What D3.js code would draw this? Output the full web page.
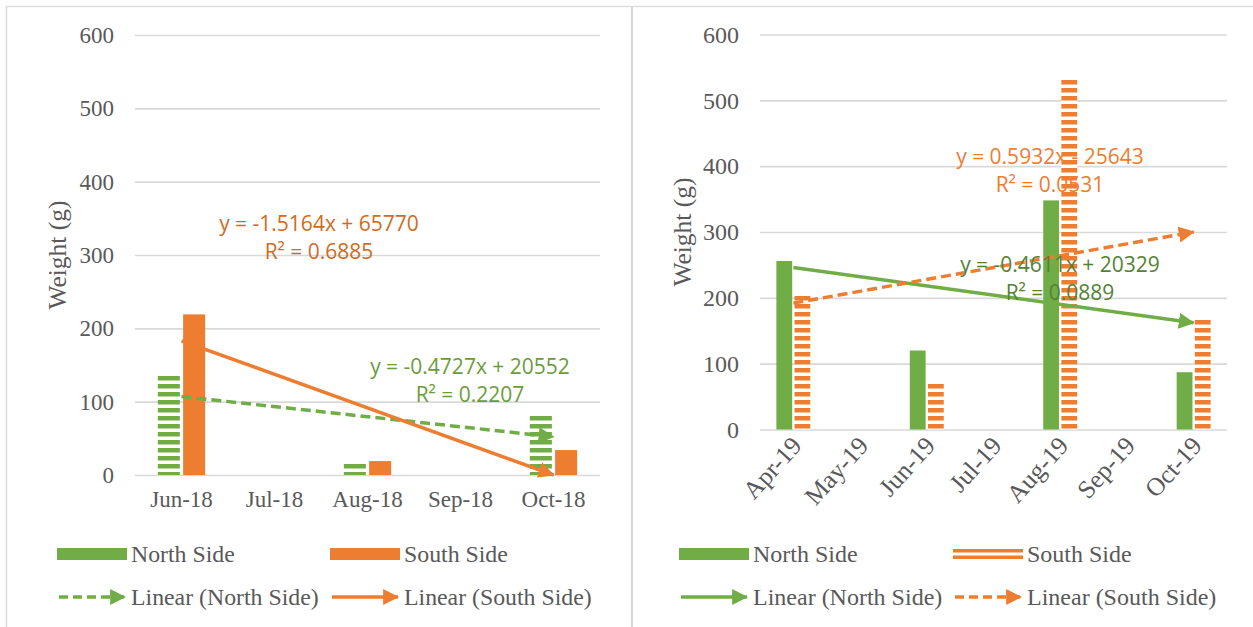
<!DOCTYPE html>
<html>
<head>
<meta charset="utf-8">
<script src="https://cdn.jsdelivr.net/npm/d3@7"></script>
<style>
  html, body { margin: 0; padding: 0; background: #fff; }
  svg { display: block; }
</style>
</head>
<body>
<svg id="chart" width="1253" height="627"></svg>
<script>
// ---------------- DATA ----------------
const yTicks = [0, 100, 200, 300, 400, 500, 600];
const yTitle = "Weight (g)";

// Left chart (2018)
const leftMonths = ["Jun-18", "Jul-18", "Aug-18", "Sep-18", "Oct-18"];
const leftNorth = [138, null, 16, null, 82];
const leftSouth = [219, null, 19, null, 34];
const leftNorthTrend = [107, 52];   // value at first and last month
const leftSouthTrend = [183, 0];
const leftNorthEq = ["y = -0.4727x + 20552", "R² = 0.2207"];
const leftSouthEq = ["y = -1.5164x + 65770", "R² = 0.6885"];

// Right chart (2019)
const rightMonths = ["Apr-19", "May-19", "Jun-19", "Jul-19", "Aug-19", "Sep-19", "Oct-19"];
const rightNorth = [256, null, 120, null, 348, null, 87];
const rightSouth = [205, null, 70, null, 533, null, 169];
const rightNorthTrend = [246, 162];
const rightSouthTrend = [192, 300];
const rightNorthEq = ["y = -0.4611x + 20329", "R² = 0.0889"];
const rightSouthEq = ["y = 0.5932x - 25643", "R² = 0.0531"];

const seriesNames = ["North Side", "South Side", "Linear (North Side)", "Linear (South Side)"];

// ---------------- STYLE ----------------
const GREEN = "#70AD47", ORANGE = "#ED7D31";
const TEXT = "#595959", GRID = "#D9D9D9";
const SERIF = "'Liberation Serif', 'Times New Roman', serif";
const SANS = "'Open Sans', 'Noto Sans', sans-serif";

const svg = d3.select("#chart");
const defs = svg.append("defs");

function stripePattern(id, color) {
  const p = defs.append("pattern").attr("id", id)
    .attr("patternUnits", "userSpaceOnUse").attr("width", 8).attr("height", 8);
  p.append("rect").attr("width", 8).attr("height", 8).attr("fill", "#fff");
  p.append("rect").attr("y", 0).attr("width", 8).attr("height", 4.5).attr("fill", color);
}
stripePattern("stripeGreen", GREEN);
stripePattern("stripeOrange", ORANGE);

function arrowMarker(id, color) {
  defs.append("marker").attr("id", id)
    .attr("markerUnits", "userSpaceOnUse")
    .attr("viewBox", "0 0 14 14").attr("refX", 13).attr("refY", 7)
    .attr("markerWidth", 16).attr("markerHeight", 16)
    .attr("orient", "auto")
    .append("path").attr("d", "M0,0 L14,7 L0,14 Z").attr("fill", color);
}
arrowMarker("arrGreen", GREEN);
arrowMarker("arrOrange", ORANGE);

// panel frames
svg.append("rect").attr("x", 6.5).attr("y", 6.5).attr("width", 625).attr("height", 640)
  .attr("fill", "none").attr("stroke", GRID).attr("stroke-width", 1.3);
svg.append("rect").attr("x", 632.5).attr("y", 6.5).attr("width", 640).attr("height", 640)
  .attr("fill", "none").attr("stroke", GRID).attr("stroke-width", 1.3);

function drawChart(cfg) {
  const g = svg.append("g");
  const x = d3.scaleBand().domain(cfg.months).range([cfg.x0, cfg.x1]).padding(0);
  const y = d3.scaleLinear().domain([0, 600]).range([cfg.yb, cfg.yt]);
  const bw = x.bandwidth();
  const barW = bw * 0.237, gap = bw * 0.035;
  const inner = d3.scaleOrdinal().domain(["N", "S"])
    .range([-gap / 2 - barW, gap / 2]);

  // gridlines + y axis labels via d3.axisLeft
  const yAxis = d3.axisLeft(y).tickValues(yTicks).tickSize(-(cfg.x1 - cfg.x0)).tickPadding(21);
  const ya = g.append("g").attr("transform", `translate(${cfg.x0},0)`).call(yAxis);
  ya.select(".domain").remove();
  ya.selectAll(".tick line").attr("stroke", GRID).attr("stroke-width", 1.6);
  ya.selectAll(".tick text").attr("fill", TEXT).style("font-family", SERIF).style("font-size", cfg.fs + "px");

  // y title
  g.append("text")
    .attr("transform", `translate(${cfg.titleX},${cfg.titleY}) rotate(-90)`)
    .attr("text-anchor", "middle").attr("dy", "0.35em")
    .attr("fill", TEXT).style("font-family", SERIF).style("font-size", "25.5px")
    .text(yTitle);

  // x labels
  const xAxis = d3.axisBottom(x).tickSize(0).tickPadding(0);
  const xa = g.append("g").attr("transform", `translate(0,${cfg.yb})`).call(xAxis);
  xa.select(".domain").remove();
  const xt = xa.selectAll(".tick text").attr("fill", TEXT)
    .style("font-family", SERIF).style("font-size", (cfg.rotate ? cfg.fs + 1.5 : cfg.fs) + "px");
  if (cfg.rotate) {
    xt.attr("text-anchor", "end").attr("dy", "0.35em")
      .attr("transform", "translate(3,11) rotate(-48)");
  } else {
    xt.attr("dy", "0.71em").attr("y", 16);
  }

  // bars
  const rows = cfg.months.map((m, i) => ({ m, n: cfg.north[i], s: cfg.south[i] }));
  g.append("g").selectAll("rect").data(rows.filter(d => d.n != null)).join("rect")
    .attr("x", d => x(d.m) + bw / 2 + inner("N"))
    .attr("width", barW)
    .attr("y", d => y(d.n)).attr("height", d => y(0) - y(d.n))
    .attr("fill", cfg.northFill);
  g.append("g").selectAll("rect").data(rows.filter(d => d.s != null)).join("rect")
    .attr("x", d => x(d.m) + bw / 2 + inner("S"))
    .attr("width", barW)
    .attr("y", d => y(d.s)).attr("height", d => y(0) - y(d.s))
    .attr("fill", cfg.southFill);

  // trend lines
  const first = cfg.months[0], last = cfg.months[cfg.months.length - 1];
  const line = d3.line().x(d => x(d[0]) + bw / 2).y(d => y(d[1]));
  function trend(vals, color, dashed, marker) {
    g.append("path")
      .datum([[first, vals[0]], [last, vals[1]]])
      .attr("d", line)
      .attr("fill", "none").attr("stroke", color).attr("stroke-width", 3.5)
      .attr("stroke-dasharray", dashed ? "10,5" : null)
      .attr("marker-end", `url(#${marker})`);
  }
  trend(cfg.northTrend, GREEN, cfg.northDashed, "arrGreen");
  trend(cfg.southTrend, ORANGE, !cfg.northDashed, "arrOrange");

  // equation labels
  function eq(lines, pos, color) {
    const t = g.append("text").attr("text-anchor", "middle")
      .attr("fill", color).style("font-family", SANS).style("font-size", "21px");
    lines.forEach((l, i) => {
      t.append("tspan").attr("x", pos[0]).attr("y", pos[1] + i * 28).attr("dy", "0.35em").text(l);
    });
  }
  eq(cfg.northEq, cfg.northEqPos, cfg.northEqColor);
  eq(cfg.southEq, cfg.southEqPos, cfg.southEqColor);

  // legend
  const L = cfg.legend;
  const lg = g.append("g").style("font-family", SERIF).style("font-size", cfg.lfs + "px").attr("fill", TEXT);
  const cols = [L.c1, L.c2], rowsY = [L.r1, L.r2];
  lg.append("rect").attr("x", cols[0]).attr("y", rowsY[0] - 6).attr("width", 70).attr("height", 12).attr("fill", GREEN);
  if (cfg.southLegendStriped) {
    lg.append("rect").attr("x", cols[1]).attr("y", rowsY[0] - 5).attr("width", 70).attr("height", 3.5).attr("fill", ORANGE);
    lg.append("rect").attr("x", cols[1]).attr("y", rowsY[0] + 1.5).attr("width", 70).attr("height", 3.5).attr("fill", ORANGE);
  } else {
    lg.append("rect").attr("x", cols[1]).attr("y", rowsY[0] - 6).attr("width", 70).attr("height", 12).attr("fill", ORANGE);
  }
  function legLine(x0, yy, color, dashed, marker) {
    lg.append("line").attr("x1", x0 + 2).attr("x2", x0 + 68).attr("y1", yy).attr("y2", yy)
      .attr("stroke", color).attr("stroke-width", 3.5)
      .attr("stroke-dasharray", dashed ? "9,5" : null)
      .attr("marker-end", `url(#${marker})`);
  }
  legLine(cols[0], rowsY[1], GREEN, cfg.northDashed, "arrGreen");
  legLine(cols[1], rowsY[1], ORANGE, !cfg.northDashed, "arrOrange");
  const labs = [[0, 0], [1, 0], [0, 1], [1, 1]];
  labs.forEach((p, i) => {
    lg.append("text").attr("x", cols[p[0]] + 74).attr("y", rowsY[p[1]]).attr("dy", "0.35em")
      .text(seriesNames[i]);
  });
}

drawChart({
  months: leftMonths, north: leftNorth, south: leftSouth,
  northTrend: leftNorthTrend, southTrend: leftSouthTrend,
  northEq: leftNorthEq, southEq: leftSouthEq,
  northEqPos: [470, 367], southEqPos: [319, 224],
  northEqColor: "#6A9D3A", southEqColor: "#D06B1E",
  x0: 135, x1: 600, yb: 475, yt: 35, titleX: 57, titleY: 255,
  rotate: false, fs: 23, lfs: 23.8,
  northFill: "url(#stripeGreen)", southFill: ORANGE, northDashed: true,
  legend: { c1: 57, c2: 330, r1: 554, r2: 597 }, southLegendStriped: false
});

drawChart({
  months: rightMonths, north: rightNorth, south: rightSouth,
  northTrend: rightNorthTrend, southTrend: rightSouthTrend,
  northEq: rightNorthEq, southEq: rightSouthEq,
  northEqPos: [1060, 265], southEqPos: [1050, 157],
  northEqColor: "#548235", southEqColor: ORANGE,
  x0: 760, x1: 1227, yb: 429.5, yt: 34.5, titleX: 682, titleY: 232,
  rotate: true, fs: 24, lfs: 24,
  northFill: GREEN, southFill: "url(#stripeOrange)", northDashed: false,
  legend: { c1: 679, c2: 953, r1: 554, r2: 597 }, southLegendStriped: true
});
</script>
</body>
</html>
